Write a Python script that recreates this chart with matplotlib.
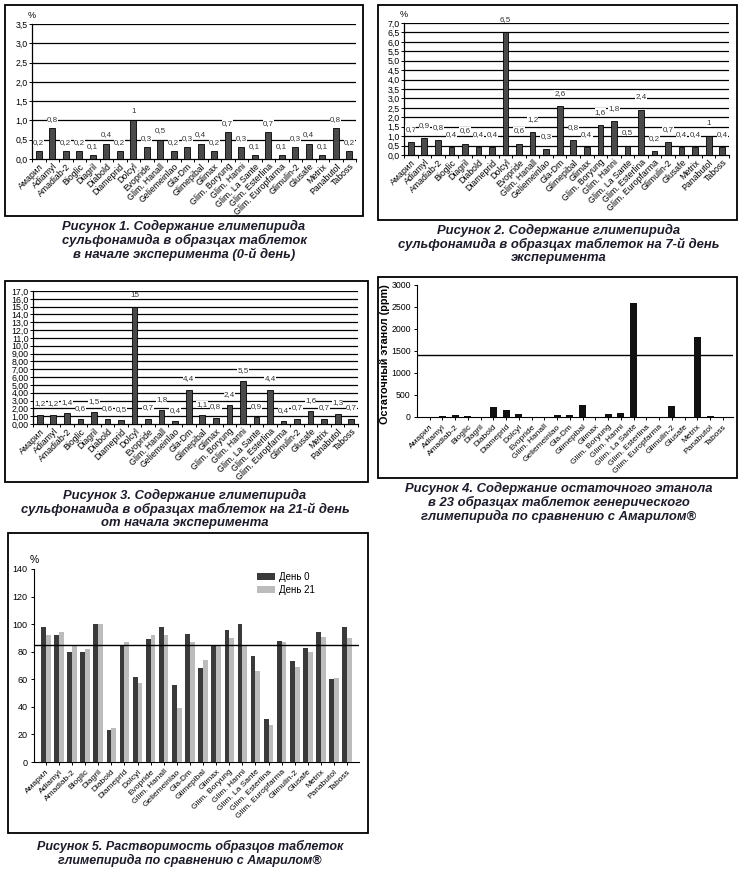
import numpy as np
import matplotlib
matplotlib.use('Agg')
import matplotlib.pyplot as plt
from matplotlib.patches import Rectangle

plt.rcParams['font.family'] = ['Liberation Sans', 'DejaVu Sans']

W, H = 747, 884

names = ['Амарил', 'Adiamyl', 'Amadiab-2', 'Bioglic', 'Diagril', 'Diabold', 'Diameprid',
         'Dolcyl', 'Evopride', 'Glim. Hanall', 'Geliemeinlao', 'Gla-Dm', 'Glimepibal',
         'Glimax', 'Glim. Boryung', 'Glim. Hanni', 'Glim. La Sante', 'Glim. Esterlina',
         'Glim. Europfarma', 'Glimulin-2', 'Glusafe', 'Metrix', 'Panabutol', 'Taboss']

day0 = [0.2, 0.8, 0.2, 0.2, 0.1, 0.4, 0.2, 1, 0.3, 0.5, 0.2, 0.3, 0.4, 0.2, 0.7, 0.3,
        0.1, 0.7, 0.1, 0.3, 0.4, 0.1, 0.8, 0.2]
day7 = [0.7, 0.9, 0.8, 0.4, 0.6, 0.4, 0.4, 6.5, 0.6, 1.2, 0.3, 2.6, 0.8, 0.4, 1.6, 1.8,
        0.5, 2.4, 0.2, 0.7, 0.4, 0.4, 1, 0.4]
day21 = [1.2, 1.2, 1.4, 0.6, 1.5, 0.6, 0.5, 15, 0.7, 1.8, 0.4, 4.4, 1.1, 0.8, 2.4, 5.5,
         0.9, 4.4, 0.4, 0.7, 1.6, 0.7, 1.3, 0.7]
ethanol = [5, 15, 50, 15, 0, 230, 170, 75, 0, 0, 50, 50, 280, 0, 75, 100, 2600, 0, 0,
           260, 0, 1820, 30, 0]
ethanol_limit = 1420
diss0 = [98, 92, 80, 80, 100, 23, 85, 62, 89, 98, 56, 93, 68, 85, 96, 100, 77, 31, 88,
         73, 83, 94, 60, 98]
diss21 = [92, 94, 85, 82, 100, 25, 87, 57, 92, 92, 39, 87, 74, 85, 90, 85, 66, 27, 87,
          69, 80, 91, 61, 90]
diss_ref = 85

captions = [
    'Рисунок 1. Содержание глимепирида\nсульфонамида в образцах таблеток\nв начале эксперимента (0-й день)',
    'Рисунок 2. Содержание глимепирида\nсульфонамида в образцах таблеток на 7-й день\nэксперимента',
    'Рисунок 3. Содержание глимепирида\nсульфонамида в образцах таблеток на 21-й день\nот начала эксперимента',
    'Рисунок 4. Содержание остаточного этанола\nв 23 образцах таблеток генерического\nглимепирида по сравнению с Амарилом®',
    'Рисунок 5. Растворимость образцов таблеток\nглимепирида по сравнению с Амарилом®',
]

fig = plt.figure(figsize=(W / 100, H / 100), dpi=100)


def ax_at(x0, y0, x1, y1):
    return fig.add_axes([x0 / W, 1 - y1 / H, (x1 - x0) / W, (y1 - y0) / H])


def box(x0, y0, x1, y1):
    fig.add_artist(Rectangle((x0 / W, 1 - y1 / H), (x1 - x0) / W, (y1 - y0) / H,
                             transform=fig.transFigure, fill=False, ec='black', lw=1.3))


def caption(x, y, txt, fs=9.4):
    fig.text(x / W, 1 - y / H, txt, ha='center', va='top', fontsize=fs,
             fontweight='bold', fontstyle='italic', color='#1c1c2a', linespacing=1.1)


x = np.arange(len(names))


def grid_panel(ax, vals, ymax, step, fmt, off, lab_fs=5.8):
    ax.bar(x, vals, width=0.42, color='#4a4a4a', edgecolor='black', lw=0.6, zorder=3)
    ax.set_ylim(0, ymax)
    ax.set_xlim(-0.45, 23.5)
    yt = np.arange(0, ymax + step / 2, step)
    ax.set_yticks(yt)
    ax.set_yticklabels([fmt(v) for v in yt], fontsize=6.3)
    for v in yt[1:]:
        ax.axhline(v, color='black', lw=0.9, zorder=1)
    ax.set_xticks(x)
    ax.set_xticklabels(names, rotation=45, ha='right', rotation_mode='anchor', fontsize=6.3)
    ax.set_xticks(np.arange(-0.5, 24, 1), minor=True)
    ax.tick_params(axis='x', which='major', length=0, pad=2)
    ax.tick_params(axis='x', which='minor', length=2.5, width=0.7)
    ax.tick_params(axis='y', length=2, width=0.7, pad=1)
    for s in ['top', 'right']:
        ax.spines[s].set_visible(False)
    for s in ['left', 'bottom']:
        ax.spines[s].set_linewidth(0.9)
    for xi, v in zip(x, vals):
        lbl = ('%g' % v).replace('.', ',')
        ax.text(xi, v + ymax * off, lbl, ha='center', va='bottom', fontsize=lab_fs,
                color='#333333', zorder=4,
                bbox=dict(fc='white', ec='none', pad=0.1))


def c1(v):
    return ('%.1f' % v).replace('.', ',')


def c3(v):
    return (('%.1f' % v) if v >= 10 else ('%.2f' % v)).replace('.', ',')


# Рисунок 1
box(5, 5, 363, 216)
ax1 = ax_at(32, 24, 356, 159)
grid_panel(ax1, day0, 3.5, 0.5, c1, 0.04)
ax1.text(0.0, 1.03, '%', transform=ax1.transAxes, fontsize=6.5, ha='center', va='bottom')
caption(184, 220, captions[0])

# Рисунок 2
box(378, 5, 737, 220)
ax2 = ax_at(404, 23, 729, 155)
grid_panel(ax2, day7, 7.0, 0.5, c1, 0.07)
ax2.text(0.0, 1.03, '%', transform=ax2.transAxes, fontsize=6.5, ha='center', va='bottom')
caption(559, 224, captions[1])

# Рисунок 3
box(5, 281, 368, 482)
ax3 = ax_at(33, 291, 358, 424)
grid_panel(ax3, day21, 17.0, 1.0, c3, 0.055)
caption(185, 489, captions[2])

# Рисунок 4
box(378, 277, 737, 478)
ax4 = ax_at(417, 285, 733, 417)
ax4.bar(x, ethanol, width=0.55, color='#111111', zorder=3)
ax4.axhline(ethanol_limit, color='black', lw=1.0)
ax4.set_ylim(0, 3000)
ax4.set_xlim(-1.0, 23.8)
ax4.set_yticks(np.arange(0, 3001, 500))
ax4.tick_params(axis='y', labelsize=6.3, length=2.5, width=0.7, pad=2)
ax4.set_xticks(x)
ax4.set_xticklabels(names, rotation=45, ha='right', rotation_mode='anchor', fontsize=6)
ax4.tick_params(axis='x', length=2.5, width=0.7, pad=2)
ax4.set_ylabel('Остаточный этанол (ppm)', fontsize=7.8, fontweight='bold')
ax4.yaxis.set_label_coords(-0.085, 0.48)
for s in ['top', 'right']:
    ax4.spines[s].set_visible(False)
caption(559, 482, captions[3])

# Рисунок 5
box(8, 533, 368, 833)
ax5 = ax_at(34, 569, 359, 762)
bw = 0.36
ax5.bar(x - bw / 2, diss0, width=bw, color='#3a3a3a', label='День 0', zorder=3)
ax5.bar(x + bw / 2, diss21, width=bw, color='#bcbcbc', label='День 21', zorder=3)
ax5.axhline(diss_ref, color='black', lw=1.0, zorder=4)
ax5.set_ylim(0, 140)
ax5.set_xlim(-0.9, 23.9)
ax5.set_yticks(np.arange(0, 141, 20))
ax5.tick_params(axis='y', labelsize=6.5, length=2.5, width=0.7, pad=2)
ax5.set_xticks(x)
ax5.set_xticklabels(names, rotation=45, ha='right', rotation_mode='anchor', fontsize=6)
ax5.tick_params(axis='x', length=2.5, width=0.7, pad=2)
for s in ['top', 'right']:
    ax5.spines[s].set_visible(False)
ax5.text(0.0, 1.02, '%', transform=ax5.transAxes, fontsize=7.5, ha='center', va='bottom')
ax5.legend(loc='upper left', bbox_to_anchor=(0.66, 1.03), frameon=False, fontsize=7,
           handlelength=1.8, handleheight=0.7, handletextpad=0.4, labelspacing=0.3)
caption(190, 840, captions[4], fs=9.0)

fig.savefig('out.png', dpi=100)
